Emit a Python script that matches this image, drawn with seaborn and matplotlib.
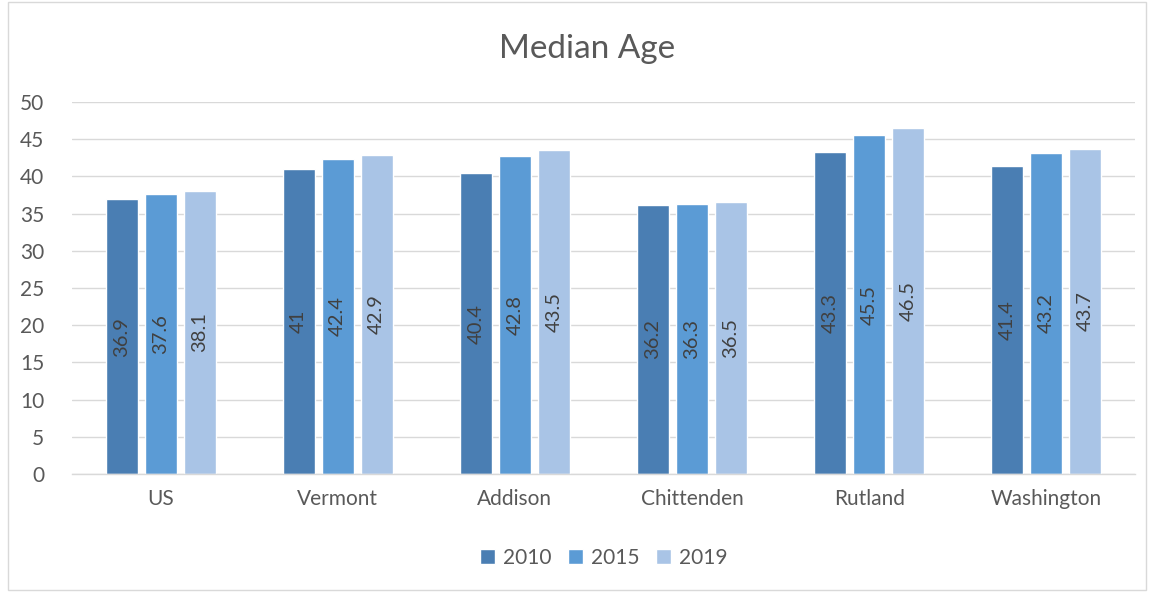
import matplotlib
matplotlib.use("Agg")
import matplotlib.pyplot as plt
import seaborn as sns
import pandas as pd
from matplotlib.patches import Rectangle

regions = ["US", "Vermont", "Addison", "Chittenden", "Rutland", "Washington"]
years = ["2010", "2015", "2019"]
age_2010 = [36.9, 41, 40.4, 36.2, 43.3, 41.4]
age_2015 = [37.6, 42.4, 42.8, 36.3, 45.5, 43.2]
age_2019 = [38.1, 42.9, 43.5, 36.5, 46.5, 43.7]
colors = ["#4a7eb3", "#5b9bd5", "#a9c4e6"]

rows = []
for yr, vals in zip(years, [age_2010, age_2015, age_2019]):
    for r, v in zip(regions, vals):
        rows.append({"Region": r, "Year": yr, "Age": v})
df = pd.DataFrame(rows)

sns.set_theme(style="white")
plt.rcParams['font.family'] = ['Lato', 'DejaVu Sans']

fig = plt.figure(figsize=(11.55, 5.95), dpi=100)
ax = fig.add_axes([0.0623, 0.2034, 0.9204, 0.6252])

sns.barplot(data=df, x="Region", y="Age", hue="Year", order=regions,
            hue_order=years, palette=colors, width=0.66, gap=0.18,
            saturation=1, ax=ax, legend=True)

for cont in ax.containers:
    labels = [("%g" % b.get_height()) for b in cont]
    ax.bar_label(cont, labels=labels, label_type="center", rotation=90,
                 color="#404040", fontsize=14.5)

ax.set_ylim(0, 50)
ax.set_xlim(-0.5, 5.5)
ax.set_yticks(range(0, 51, 5))
ax.yaxis.grid(True, color="#d9d9d9", linewidth=1)
ax.set_axisbelow(True)
for s in ["top", "right", "left"]:
    ax.spines[s].set_visible(False)
ax.spines["bottom"].set_color("#d9d9d9")
ax.spines["bottom"].set_linewidth(1)
ax.tick_params(axis="both", length=0, labelsize=15, labelcolor="#595959")
ax.tick_params(axis="x", pad=11)
ax.tick_params(axis="y", pad=20)
ax.set_xlabel("")
ax.set_ylabel("")

ax.legend(loc="center", bbox_to_anchor=(0.5, -0.225), ncol=3, frameon=False,
          fontsize=15, labelcolor="#595959", handlelength=0.75,
          handleheight=0.75, columnspacing=0.8, handletextpad=0.35)

fig.text(0.508, 0.918, "Median Age", ha="center", va="center",
         fontsize=24, color="#595959")

fig.patches.append(Rectangle((0.007, 0.008), 0.985, 0.988, transform=fig.transFigure,
                             fill=False, edgecolor="#d9d9d9", linewidth=1))

fig.savefig("out.png", dpi=100)
